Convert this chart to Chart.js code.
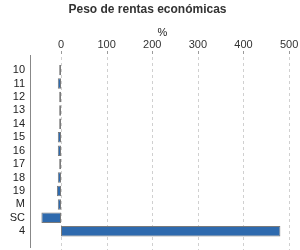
<!DOCTYPE html>
<html>
<head>
<meta charset="utf-8">
<script src="https://cdn.jsdelivr.net/npm/chart.js@4"></script>
<style>
  html, body { margin: 0; padding: 0; background: #fff; }
  #wrap { width: 300px; height: 250px; }
</style>
</head>
<body>
<div id="wrap"><canvas id="chart" width="300" height="250"></canvas></div>
<script>
// data
const categories = ['10', '11', '12', '13', '14', '15', '16', '17', '18', '19', 'M', 'SC', '4'];
const values = [-4, -7, -4, -4, -4, -7, -7, -4, -7, -9, -7, -43, 481];
const xTicks = [0, 100, 200, 300, 400, 500];

// dashed grid + left axis line, stretched a bit past the plot area like the original
const extendedGrid = {
    id: 'extendedGrid',
    beforeDatasetsDraw(chart) {
        const ctx = chart.ctx;
        const x = chart.scales.x;
        const top = 51, bottom = 250;
        ctx.save();
        ctx.strokeStyle = '#d0d0d0';
        ctx.lineWidth = 1;
        ctx.setLineDash([3, 3]);
        xTicks.forEach(v => {
            const px = Math.round(x.getPixelForValue(v)) + 0.5;
            ctx.beginPath();
            ctx.moveTo(px, top);
            ctx.lineTo(px, bottom);
            ctx.stroke();
        });
        ctx.setLineDash([]);
        ctx.strokeStyle = '#999';
        xTicks.forEach(v => {
            const px = Math.round(x.getPixelForValue(v)) + 0.5;
            ctx.beginPath();
            ctx.moveTo(px, top);
            ctx.lineTo(px, top + 3);
            ctx.stroke();
        });
        const lx = Math.round(chart.chartArea.left) + 0.5;
        ctx.strokeStyle = '#888';
        ctx.beginPath();
        ctx.moveTo(lx, 55);
        ctx.lineTo(lx, 248);
        ctx.stroke();
        ctx.restore();
    }
};

new Chart(document.getElementById('chart'), {
    type: 'bar',
    data: {
        labels: categories,
        datasets: [{
            data: values,
            backgroundColor: '#2e6aae',
            borderColor: '#7a7a7a',
            borderWidth: 1,
            borderSkipped: false,
            categoryPercentage: 1,
            barPercentage: 0.78
        }]
    },
    options: {
        indexAxis: 'y',
        responsive: false,
        animation: false,
        layout: { padding: { left: 0, right: 5, top: 0, bottom: 12 } },
        plugins: {
            legend: { display: false },
            tooltip: { enabled: false },
            title: {
                display: true,
                text: 'Peso de rentas económicas',
                color: '#333',
                font: { family: 'Liberation Sans, Arial', size: 12, weight: 'bold' },
                padding: { top: 2, bottom: 6 }
            }
        },
        scales: {
            x: {
                position: 'top',
                min: -68,
                max: 513,
                afterBuildTicks: axis => {
                    axis.ticks = xTicks.map(v => ({ value: v }));
                },
                afterFit: axis => {
                    axis.height = 41;
                    axis.paddingLeft = 0;
                    axis.paddingRight = 0;
                },
                grid: { display: false, drawTicks: false },
                border: { display: false },
                ticks: {
                    color: '#333',
                    font: { family: 'Liberation Sans, Arial', size: 11 },
                    padding: 12,
                    autoSkip: false,
                    maxRotation: 0
                },
                title: {
                    display: true,
                    text: '%',
                    color: '#222',
                    font: { family: 'Liberation Sans, Arial', size: 11 },
                    padding: { top: 4, bottom: 0 }
                }
            },
            y: {
                afterFit: axis => {
                    axis.width = 30;
                },
                grid: { display: false, drawTicks: false },
                border: { display: false },
                ticks: {
                    color: '#222',
                    font: { family: 'Liberation Sans, Arial', size: 11 },
                    padding: 5,
                    autoSkip: false
                }
            }
        }
    },
    plugins: [extendedGrid]
});
</script>
</body>
</html>
